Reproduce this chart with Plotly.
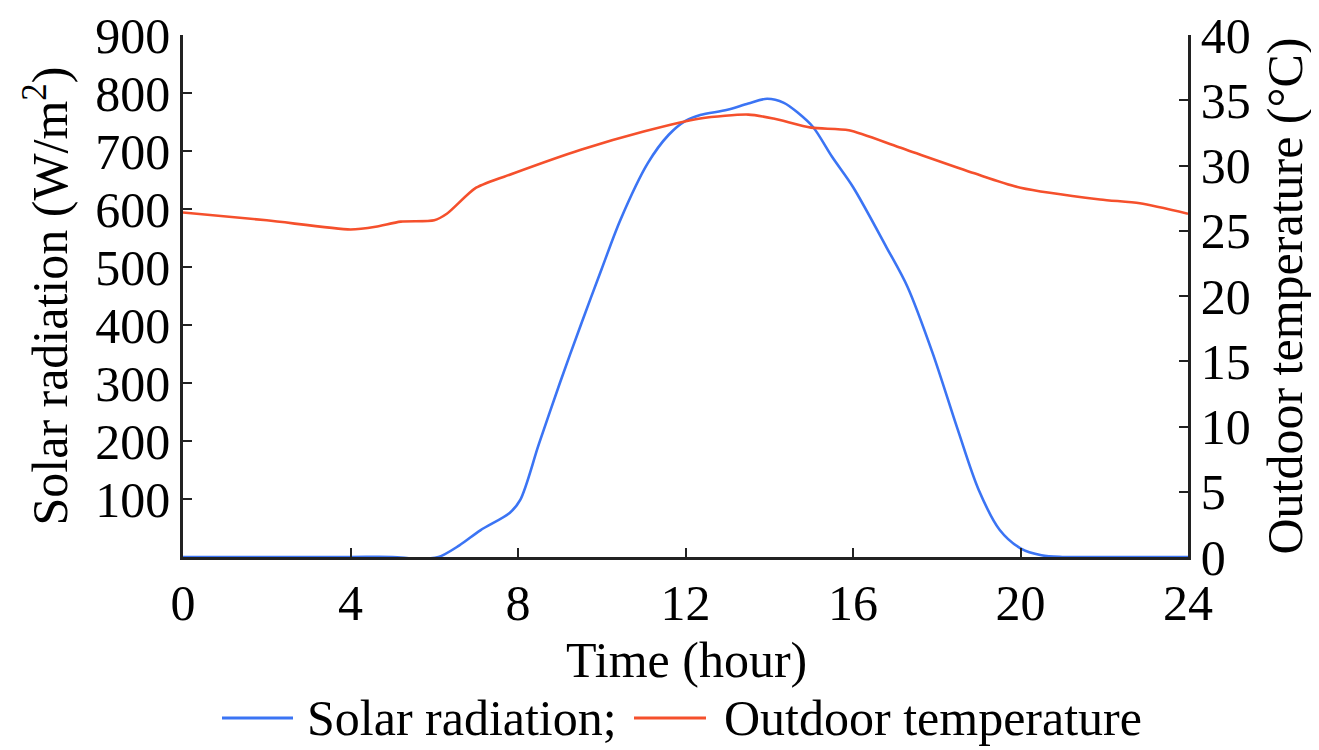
import plotly.graph_objects as go

# Data
hours_solar = [0, 2, 4, 5, 5.6, 6.1, 6.6, 7.1, 7.8, 8.05, 8.5, 9.0, 9.5, 10.0, 10.45, 11.1, 11.6, 12.0, 12.35, 13.0, 13.5, 13.95, 14.35, 14.7, 15.05, 15.5, 16.0, 16.8, 17.3, 17.9, 18.5, 19.0, 19.5, 20.0, 20.5, 21.0, 22, 24]
solar = [0, 0, 0, 0, -3, 0, 20, 46, 76, 98, 195, 300, 400, 497, 582, 679, 728, 752, 762, 771, 782, 790, 783, 765, 741, 690, 638, 534, 466, 352, 220, 116, 47, 15, 3, 0, 0, 0]

hours_temp = [0, 2, 4, 4.6, 5.2, 6.0, 6.3, 7.0, 7.9, 9.5, 11.0, 12.35, 13.5, 14.1, 15.0, 15.9, 17.1, 18.9, 20.0, 21.9, 22.85, 24]
temp = [26.4, 25.8, 25.1, 25.3, 25.7, 25.8, 26.3, 28.3, 29.4, 31.2, 32.6, 33.6, 33.9, 33.6, 32.9, 32.7, 31.4, 29.4, 28.3, 27.4, 27.1, 26.3]

x_ticks = [0, 4, 8, 12, 16, 20, 24]
left_ticks = [100, 200, 300, 400, 500, 600, 700, 800, 900]
right_ticks = [0, 5, 10, 15, 20, 25, 30, 35, 40]

series_names = ["Solar radiation;", "Outdoor temperature"]
series_colors = ["#3b74f4", "#f5502c"]
x_title = "Time (hour)"

FONT = "Liberation Serif"
FS = 50

fig = go.Figure()
fig.add_trace(go.Scatter(x=hours_solar, y=solar, mode="lines", name=series_names[0],
                         line=dict(color=series_colors[0], width=2.6, shape="spline", smoothing=0.9)))
fig.add_trace(go.Scatter(x=hours_temp, y=temp, mode="lines", name=series_names[1], yaxis="y2",
                         line=dict(color=series_colors[1], width=2.6, shape="spline", smoothing=0.7)))

# page body has an 8px margin, so the figure is laid out in page coords minus 8
W, H = 1311, 742
L, R, T, B = 175, 1180, 27, 549

def xp(abs_px):  # page pixel -> paper x
    return (abs_px - 8 - L) / (R - L)
def yp(abs_px):  # page pixel -> paper y
    return (B - (abs_px - 8)) / (B - T)

# custom legend (long line samples like the reference)
leg_y = 718
leg_items = [(222, 293, 305), (634, 706, 722)]
shapes, annotations = [], []
for (x0, x1, tx), name, col in zip(leg_items, series_names, series_colors):
    shapes.append(dict(type="line", xref="paper", yref="paper", x0=xp(x0), x1=xp(x1),
                       y0=yp(leg_y), y1=yp(leg_y), line=dict(color=col, width=3)))
    annotations.append(dict(text=name, xref="paper", yref="paper", x=xp(tx), y=yp(leg_y),
                            xanchor="left", yanchor="middle", showarrow=False,
                            font=dict(family=FONT, size=FS, color="black")))
# x-axis title
annotations.append(dict(text=x_title, xref="paper", yref="paper", x=xp(686), y=yp(660),
                        xanchor="center", yanchor="middle", showarrow=False,
                        font=dict(family=FONT, size=FS, color="black")))

axis_common = dict(ticks="inside", ticklen=9, tickwidth=2, tickcolor="#222",
                   showline=True, linecolor="#222", linewidth=2.5,
                   showgrid=False, zeroline=False, automargin=False,
                   ticklabeloverflow="allow")

fig.update_layout(
    width=W, height=H,
    margin=dict(l=L, r=W - R, t=T, b=H - B),
    paper_bgcolor="white", plot_bgcolor="white",
    font=dict(family=FONT, size=FS, color="black"),
    showlegend=False,
    shapes=shapes, annotations=annotations,
    xaxis=dict(range=[0, 24], tickvals=x_ticks, **axis_common),
    yaxis=dict(range=[0, 900], tickvals=left_ticks,
               title=dict(text="Solar radiation (W/m<sup>2</sup>)", standoff=12, font=dict(size=FS)),
               **axis_common),
    yaxis2=dict(range=[0, 40], tickvals=right_ticks, overlaying="y", side="right",
                title=dict(text="Outdoor temperature (°C)", standoff=18, font=dict(size=FS)),
                **axis_common),
)

fig.write_html("out.html")
